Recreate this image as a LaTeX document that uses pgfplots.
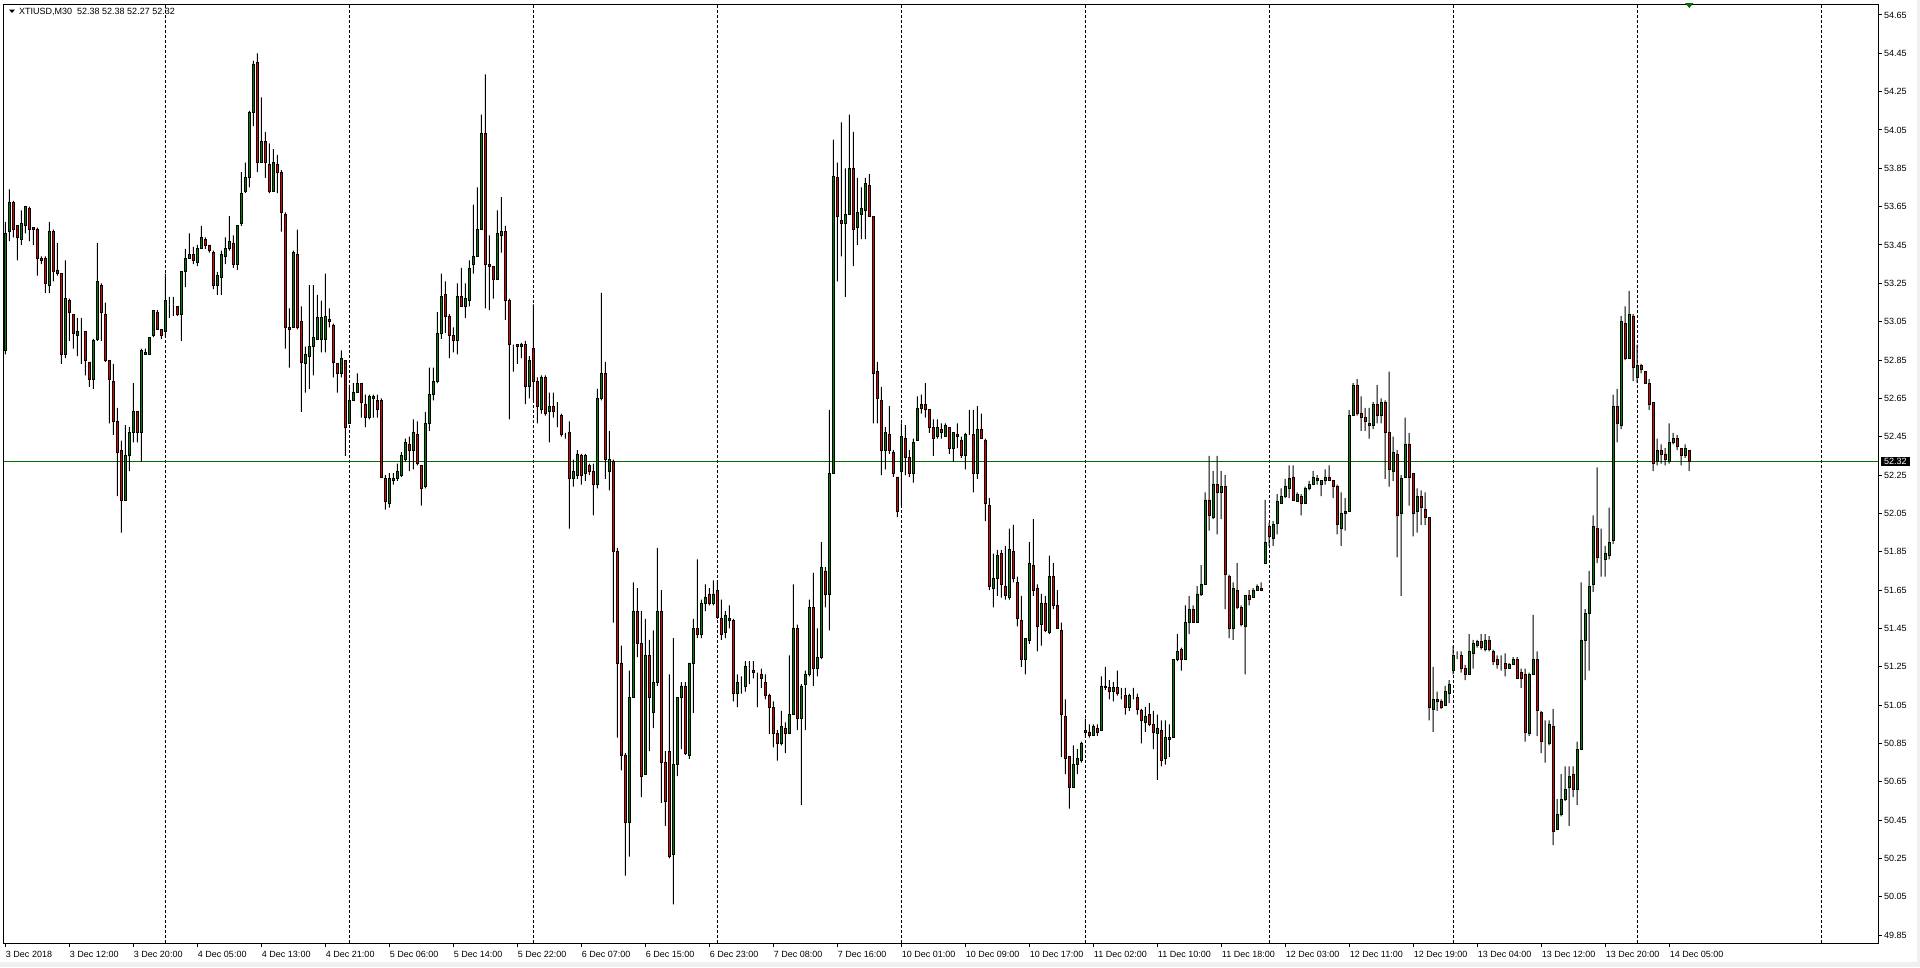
\documentclass[border=0pt]{standalone}
\usepackage{pgfplots}
\usepackage{pgfplotstable}
\usepackage{fontspec}
\setmainfont{Liberation Sans}
\pgfplotsset{compat=1.18}
\definecolor{bull}{RGB}{0,128,0}
\definecolor{bear}{RGB}{225,0,0}
\definecolor{pline}{RGB}{0,110,0}
\definecolor{frame}{RGB}{240,240,240}
\pgfplotstableread{
i O H L C
0 52.90 53.57 52.88 53.51
1 53.52 53.74 53.47 53.67
2 53.67 53.68 53.49 53.53
3 53.55 53.55 53.37 53.49
4 53.48 53.63 53.45 53.56
5 53.55 53.65 53.51 53.65
6 53.64 53.65 53.47 53.53
7 53.54 53.54 53.45 53.53
8 53.53 53.54 53.29 53.38
9 53.38 53.39 53.35 53.37
10 53.38 53.39 53.20 53.25
11 53.24 53.57 53.20 53.52
12 53.52 53.53 53.26 53.31
13 53.32 53.46 53.29 53.30
14 53.30 53.30 52.83 52.88
15 52.88 53.37 52.86 53.17
16 53.16 53.17 52.95 53.10
17 53.09 53.09 52.91 52.99
18 52.98 53.07 52.87 53.00
19 52.99 53.07 52.83 52.99
20 53.00 53.00 52.77 52.85
21 52.84 52.84 52.71 52.75
22 52.75 52.96 52.70 52.95
23 52.96 53.46 52.95 53.26
24 53.24 53.25 52.95 53.10
25 53.09 53.15 52.84 52.85
26 52.85 52.85 52.52 52.75
27 52.74 52.83 52.46 52.53
28 52.53 52.60 52.14 52.37
29 52.38 52.43 51.95 52.12
30 52.12 52.51 52.12 52.35
31 52.35 52.50 52.27 52.47
32 52.47 52.73 52.42 52.58
33 52.58 52.58 52.42 52.47
34 52.47 52.91 52.32 52.90
35 52.88 52.91 52.88 52.89
36 52.88 52.97 52.88 52.97
37 52.98 53.11 52.97 53.11
38 53.10 53.11 53.01 53.01
39 53.01 53.01 52.96 52.98
40 53.00 53.30 52.97 53.16
41 53.14 53.18 53.07 53.14
42 53.14 53.18 53.08 53.14
43 53.13 53.13 53.08 53.09
44 53.09 53.31 52.95 53.31
45 53.31 53.43 53.23 53.38
46 53.38 53.51 53.38 53.40
47 53.40 53.44 53.35 53.37
48 53.36 53.45 53.34 53.43
49 53.43 53.55 53.43 53.49
50 53.48 53.49 53.43 53.45
51 53.45 53.45 53.41 53.42
52 53.41 53.42 53.22 53.24
53 53.24 53.31 53.19 53.29
54 53.28 53.42 53.19 53.40
55 53.39 53.49 53.35 53.43
56 53.43 53.60 53.42 53.47
57 53.46 53.50 53.33 53.35
58 53.35 53.55 53.32 53.55
59 53.56 53.83 53.55 53.72
60 53.73 53.88 53.72 53.80
61 53.80 54.15 53.75 54.14
62 54.14 54.41 54.07 54.39
63 54.40 54.45 53.83 53.88
64 53.88 54.22 53.88 53.99
65 53.99 54.04 53.80 53.88
66 53.87 53.98 53.72 53.73
67 53.73 53.95 53.73 53.88
68 53.87 53.92 53.72 53.83
69 53.83 53.84 53.52 53.62
70 53.61 53.62 52.91 53.02
71 53.02 53.12 52.81 53.01
72 53.02 53.42 53.02 53.41
73 53.40 53.53 53.01 53.02
74 53.05 53.13 52.58 52.84
75 52.83 52.92 52.68 52.88
76 52.87 53.24 52.70 52.92
77 52.92 53.24 52.77 52.97
78 52.96 53.19 52.96 53.07
79 52.96 53.16 52.89 53.07
80 52.96 53.30 52.89 53.08
81 53.06 53.12 53.02 53.05
82 53.03 53.04 52.76 52.84
83 52.83 52.83 52.68 52.78
84 52.78 52.90 52.76 52.86
85 52.85 52.85 52.35 52.50
86 52.52 52.72 52.52 52.64
87 52.64 52.73 52.64 52.68
88 52.68 52.78 52.68 52.73
89 52.73 52.73 52.55 52.63
90 52.62 52.67 52.50 52.55
91 52.55 52.67 52.54 52.66
92 52.65 52.67 52.55 52.66
93 52.64 52.67 52.55 52.59
94 52.64 52.65 52.24 52.24
95 52.23 52.25 52.07 52.11
96 52.10 52.26 52.08 52.23
97 52.22 52.26 52.20 52.23
98 52.23 52.31 52.22 52.27
99 52.25 52.37 52.24 52.35
100 52.33 52.44 52.32 52.42
101 52.41 52.45 52.27 52.38
102 52.38 52.54 52.28 52.47
103 52.46 52.53 52.30 52.31
104 52.30 52.30 52.09 52.18
105 52.19 52.58 52.18 52.52
106 52.52 52.81 52.48 52.67
107 52.67 52.81 52.64 52.74
108 52.74 53.10 52.73 52.99
109 52.99 53.30 52.96 53.18
110 53.19 53.26 52.99 53.08
111 53.08 53.09 52.86 52.98
112 52.98 53.02 52.89 52.95
113 52.95 53.25 52.88 53.18
114 53.18 53.33 53.13 53.13
115 53.13 53.25 53.07 53.17
116 53.16 53.37 53.13 53.33
117 53.35 53.66 53.30 53.39
118 53.39 53.75 53.39 53.53
119 53.53 54.13 53.53 54.03
120 54.03 54.34 53.12 53.35
121 53.35 53.50 53.11 53.34
122 53.34 53.34 53.17 53.27
123 53.27 53.63 53.27 53.51
124 53.50 53.70 53.41 53.52
125 53.52 53.55 53.06 53.16
126 53.16 53.17 52.54 52.93
127 52.92 52.93 52.79 52.92
128 52.93 52.93 52.83 52.92
129 52.92 52.94 52.86 52.93
130 52.93 52.95 52.62 52.71
131 52.71 52.87 52.65 52.85
132 52.91 53.14 52.64 52.74
133 52.74 52.76 52.52 52.61
134 52.59 52.77 52.57 52.76
135 52.76 52.77 52.56 52.57
136 52.58 52.68 52.42 52.61
137 52.61 52.68 52.55 52.58
138 52.58 52.63 52.50 52.58
139 52.56 52.57 52.45 52.46
140 52.47 52.47 52.44 52.47
141 52.47 52.53 51.97 52.23
142 52.23 52.33 52.19 52.27
143 52.25 52.38 52.23 52.36
144 52.35 52.36 52.20 52.25
145 52.26 52.36 52.22 52.35
146 52.30 52.31 52.25 52.27
147 52.27 52.31 52.04 52.20
148 52.20 52.70 52.18 52.65
149 52.65 53.20 52.64 52.78
150 52.78 52.84 52.23 52.33
151 52.27 52.48 52.17 52.33
152 52.32 52.33 51.48 51.85
153 51.85 51.87 50.88 51.27
154 51.27 51.36 50.71 50.79
155 50.79 50.80 50.16 50.44
156 50.44 51.23 50.26 51.09
157 51.09 51.69 51.09 51.54
158 51.54 51.66 51.30 51.37
159 51.37 51.54 50.57 50.68
160 50.69 51.50 50.69 51.31
161 51.31 51.39 50.81 51.09
162 51.01 51.44 50.93 51.17
163 51.17 51.87 51.15 51.54
164 51.54 51.65 50.54 50.75
165 50.75 50.81 50.42 50.55
166 50.81 51.21 50.25 50.26
167 50.27 51.40 50.01 50.74
168 50.74 51.09 50.68 51.09
169 51.09 51.17 50.82 51.15
170 51.15 51.17 50.79 50.80
171 50.79 51.27 50.77 51.27
172 51.27 51.50 51.01 51.45
173 51.45 51.81 51.40 51.42
174 51.42 51.60 51.40 51.58
175 51.58 51.68 51.54 51.61
176 51.63 51.66 51.57 51.58
177 51.58 51.70 51.57 51.63
178 51.65 51.70 51.50 51.51
179 51.50 51.60 51.39 51.42
180 51.43 51.54 51.40 51.52
181 51.49 51.57 51.45 51.50
182 51.49 51.50 51.07 51.11
183 51.11 51.21 51.04 51.17
184 51.15 51.20 51.11 51.15
185 51.15 51.28 51.12 51.25
186 51.24 51.28 51.16 51.24
187 51.23 51.28 51.19 51.22
188 51.22 51.22 51.04 51.22
189 51.21 51.24 51.14 51.19
190 51.17 51.21 51.08 51.10
191 51.10 51.11 50.90 51.04
192 51.04 51.07 50.83 50.90
193 50.90 50.92 50.76 50.85
194 50.85 51.02 50.84 50.94
195 50.93 50.96 50.80 50.90
196 50.90 51.31 50.90 51.00
197 51.00 51.68 51.00 51.45
198 51.45 51.47 50.92 50.98
199 50.98 51.16 50.53 51.15
200 51.16 51.23 50.92 51.21
201 51.21 51.60 51.20 51.56
202 51.56 51.74 51.15 51.24
203 51.24 51.45 51.20 51.30
204 51.30 51.90 51.29 51.77
205 51.75 51.77 51.56 51.63
206 51.63 52.59 51.44 52.26
207 52.26 54.00 52.26 53.81
208 53.80 53.88 53.26 53.60
209 53.58 54.09 53.39 53.56
210 53.56 53.85 53.18 53.61
211 53.61 54.13 53.61 53.85
212 53.85 54.04 53.34 53.53
213 53.54 53.80 53.45 53.62
214 53.61 53.75 53.48 53.64
215 53.63 53.80 53.48 53.77
216 53.76 53.82 53.60 53.60
217 53.60 53.60 52.52 52.78
218 52.79 52.84 52.52 52.65
219 52.64 52.71 52.25 52.38
220 52.38 52.50 52.28 52.47
221 52.46 52.61 52.36 52.38
222 52.37 52.38 52.24 52.26
223 52.24 52.24 52.03 52.06
224 52.27 52.52 52.09 52.45
225 52.44 52.51 52.25 52.34
226 52.34 52.38 52.24 52.26
227 52.26 52.44 52.21 52.42
228 52.43 52.66 52.43 52.60
229 52.60 52.67 52.57 52.62
230 52.62 52.73 52.55 52.59
231 52.59 52.59 52.47 52.50
232 52.50 52.54 52.35 52.44
233 52.45 52.54 52.44 52.50
234 52.49 52.52 52.44 52.47
235 52.45 52.52 52.45 52.51
236 52.50 52.50 52.36 52.39
237 52.39 52.47 52.32 52.47
238 52.46 52.52 52.39 52.45
239 52.43 52.45 52.34 52.35
240 52.35 52.47 52.28 52.46
241 52.47 52.59 52.46 52.47
242 52.46 52.59 52.16 52.26
243 52.26 52.61 52.23 52.49
244 52.49 52.57 52.44 52.44
245 52.43 52.44 52.01 52.10
246 52.09 52.13 51.65 51.67
247 51.66 51.84 51.56 51.71
248 51.71 51.86 51.62 51.83
249 51.84 51.86 51.61 51.68
250 51.67 51.88 51.60 51.62
251 51.61 51.97 51.60 51.86
252 51.85 51.99 51.69 51.71
253 51.69 51.72 51.46 51.50
254 51.49 51.62 51.25 51.29
255 51.29 51.40 51.21 51.40
256 51.39 51.90 51.37 51.79
257 51.78 52.02 51.62 51.65
258 51.66 51.68 51.33 51.46
259 51.47 51.63 51.36 51.58
260 51.58 51.62 51.43 51.44
261 51.43 51.83 51.42 51.72
262 51.72 51.79 51.55 51.57
263 51.57 51.65 51.45 51.45
264 51.44 51.48 50.78 51.00
265 50.99 51.08 50.69 50.77
266 50.78 50.78 50.51 50.62
267 50.62 50.84 50.62 50.74
268 50.74 50.82 50.69 50.77
269 50.76 50.86 50.75 50.85
270 50.92 50.98 50.88 50.91
271 50.91 50.95 50.88 50.89
272 50.89 50.95 50.89 50.94
273 50.93 50.95 50.89 50.91
274 50.92 51.20 50.92 51.15
275 51.15 51.25 51.13 51.14
276 51.14 51.18 51.08 51.12
277 51.12 51.17 51.07 51.14
278 51.14 51.23 51.10 51.11
279 51.10 51.14 51.08 51.10
280 51.10 51.14 51.00 51.04
281 51.04 51.11 51.02 51.10
282 51.09 51.14 51.08 51.09
283 51.09 51.11 51.00 51.03
284 51.02 51.03 50.85 50.97
285 50.96 51.04 50.91 50.99
286 51.00 51.06 50.94 50.95
287 50.95 51.02 50.82 50.91
288 50.90 51.00 50.66 50.93
289 50.92 50.97 50.73 50.76
290 50.77 50.97 50.74 50.88
291 50.87 50.95 50.78 50.88
292 50.88 51.29 50.88 51.29
293 51.29 51.42 51.28 51.33
294 51.34 51.35 51.23 51.29
295 51.29 51.57 51.29 51.48
296 51.48 51.62 51.42 51.55
297 51.55 51.57 51.48 51.48
298 51.48 51.67 51.48 51.63
299 51.63 51.78 51.62 51.68
300 51.68 52.16 51.68 52.12
301 52.12 52.35 51.96 52.04
302 52.03 52.27 52.02 52.20
303 52.20 52.35 51.94 52.16
304 52.16 52.27 52.02 52.19
305 52.19 52.25 51.55 51.73
306 51.72 51.73 51.40 51.45
307 51.45 51.69 51.39 51.66
308 51.65 51.79 51.55 51.56
309 51.56 51.57 51.46 51.47
310 51.46 51.62 51.21 51.62
311 51.62 51.65 51.57 51.60
312 51.61 51.66 51.61 51.65
313 51.65 51.68 51.65 51.67
314 51.66 51.69 51.65 51.65
315 51.79 52.12 51.79 51.90
316 51.98 52.00 51.88 51.93
317 51.92 52.01 51.88 51.99
318 52.00 52.15 51.94 52.11
319 52.10 52.18 52.10 52.14
320 52.14 52.23 52.13 52.19
321 52.18 52.30 52.13 52.23
322 52.24 52.30 52.12 52.12
323 52.11 52.16 52.11 52.15
324 52.14 52.15 52.04 52.10
325 52.10 52.19 52.10 52.18
326 52.18 52.22 52.17 52.20
327 52.20 52.27 52.20 52.24
328 52.23 52.25 52.20 52.22
329 52.20 52.22 52.14 52.22
330 52.22 52.28 52.20 52.24
331 52.24 52.30 52.22 52.22
332 52.22 52.22 52.13 52.19
333 52.19 52.20 51.94 51.99
334 51.97 52.16 51.88 52.05
335 52.05 52.13 51.96 52.06
336 52.06 52.59 52.06 52.56
337 52.56 52.73 52.56 52.72
338 52.72 52.75 52.56 52.57
339 52.57 52.66 52.48 52.55
340 52.55 52.60 52.48 52.53
341 52.52 52.60 52.44 52.51
342 52.51 52.63 52.49 52.62
343 52.62 52.72 52.52 52.56
344 52.56 52.65 52.52 52.63
345 52.63 52.64 52.23 52.47
346 52.47 52.79 52.19 52.28
347 52.27 52.45 52.22 52.37
348 52.36 52.38 51.82 52.04
349 52.05 52.25 51.62 52.23
350 52.24 52.55 52.24 52.41
351 52.41 52.47 52.09 52.24
352 52.26 52.26 51.93 52.05
353 52.06 52.18 51.95 52.14
354 52.14 52.17 51.99 52.08
355 52.07 52.16 51.99 52.03
356 52.03 52.03 50.97 51.04
357 51.03 51.25 50.91 51.08
358 51.07 51.12 51.02 51.08
359 51.07 51.08 51.03 51.04
360 51.05 51.15 51.05 51.12
361 51.11 51.18 51.06 51.16
362 51.23 51.36 51.21 51.31
363 51.31 51.33 51.29 51.31
364 51.31 51.33 51.22 51.24
365 51.24 51.26 51.18 51.21
366 51.21 51.42 51.21 51.33
367 51.32 51.39 51.24 51.37
368 51.36 51.39 51.35 51.38
369 51.38 51.42 51.34 51.35
370 51.34 51.42 51.33 51.39
371 51.39 51.41 51.33 51.34
372 51.33 51.34 51.26 51.28
373 51.29 51.31 51.24 51.26
374 51.27 51.31 51.23 51.27
375 51.27 51.32 51.20 51.24
376 51.24 51.27 51.24 51.26
377 51.26 51.30 51.26 51.29
378 51.29 51.30 51.19 51.19
379 51.22 51.24 51.14 51.19
380 51.21 51.24 50.86 50.91
381 50.90 51.22 50.89 51.21
382 51.21 51.52 51.21 51.29
383 51.29 51.33 50.89 51.02
384 51.01 51.02 50.80 50.86
385 50.84 50.97 50.75 50.84
386 50.85 50.97 50.84 50.95
387 50.94 51.03 50.32 50.39
388 50.40 50.56 50.40 50.48
389 50.48 50.69 50.47 50.56
390 50.56 50.73 50.55 50.61
391 50.62 50.73 50.42 50.68
392 50.69 50.73 50.57 50.61
393 50.61 50.86 50.53 50.82
394 50.82 51.69 50.82 51.39
395 51.39 51.55 51.18 51.53
396 51.53 51.75 51.23 51.67
397 51.68 52.04 51.64 51.98
398 51.97 52.29 51.79 51.82
399 51.81 51.97 51.72 51.81
400 51.81 51.88 51.72 51.84
401 51.83 52.08 51.81 51.90
402 51.91 52.67 51.89 52.61
403 52.61 52.70 52.42 52.52
404 52.51 53.08 52.49 53.05
405 53.04 53.13 52.85 52.86
406 52.86 53.21 52.86 53.09
407 53.08 53.09 52.74 52.81
408 52.76 52.93 52.73 52.82
409 52.82 52.83 52.78 52.80
410 52.79 52.79 52.73 52.73
411 52.73 52.75 52.59 52.62
412 52.63 52.63 52.27 52.31
413 52.32 52.44 52.30 52.38
414 52.38 52.41 52.31 52.36
415 52.36 52.39 52.30 52.33
416 52.32 52.52 52.31 52.42
417 52.42 52.47 52.41 52.44
418 52.44 52.46 52.38 52.40
419 52.39 52.39 52.30 52.35
420 52.35 52.41 52.34 52.39
421 52.38 52.38 52.27 52.32
}\candles
\begin{document}
\begin{tikzpicture}[x=1pt,y=1pt]
\fill[white] (0,0) rectangle (1920,-967);
\path[use as bounding box] (0,0) rectangle (1920,-967);
\fill[frame] (0,-962) rectangle (1920,-967);
\fill[frame] (1917,0) rectangle (1920,-967);
\begin{axis}[
  at={(4pt,-4pt)}, anchor=north west,
  scale only axis, width=1874pt, height=939pt,
  xmin=-0.325, xmax=468.2, ymin=49.809, ymax=54.707,
  ybar stacked, bar shift=0pt,
  clip mode=individual,
  axis line style={black, line width=1pt},
  tick style={black, line width=1pt},
  tick align=outside, major tick length=4pt,
  xtick pos=bottom, ytick pos=right,
  yticklabel pos=right,
  xtick={0,16,...,416},
  xticklabels={3 Dec 2018, 3 Dec 12:00, 3 Dec 20:00, 4 Dec 05:00, 4 Dec 13:00, 4 Dec 21:00, 5 Dec 06:00, 5 Dec 14:00, 5 Dec 22:00, 6 Dec 07:00, 6 Dec 15:00, 6 Dec 23:00, 7 Dec 08:00, 7 Dec 16:00, 10 Dec 01:00, 10 Dec 09:00, 10 Dec 17:00, 11 Dec 02:00, 11 Dec 10:00, 11 Dec 18:00, 12 Dec 03:00, 12 Dec 11:00, 12 Dec 19:00, 13 Dec 04:00, 13 Dec 12:00, 13 Dec 20:00, 14 Dec 05:00},
  ytick={49.85,50.05,50.25,50.45,50.65,50.85,51.05,51.25,51.45,51.65,51.85,52.05,52.25,52.45,52.65,52.85,53.05,53.25,53.45,53.65,53.85,54.05,54.25,54.45,54.65},
  yticklabel={\pgfmathprintnumber[fixed,fixed zerofill,precision=2]{\tick}},
  /pgf/number format/assume math mode=true,
  tick label style={font=\fontsize{9}{10}\selectfont, black},
  xticklabel style={anchor=north west, inner sep=0pt, xshift=0.5pt, yshift=-4pt},
  yticklabel style={anchor=west, inner sep=0pt, xshift=2pt},
  extra x ticks={40,86,132,178,224,270,316,362,408,454},
  extra x tick labels={},
  extra x tick style={grid=major, major tick length=0pt, major grid style={black, line width=1pt, dash pattern=on 3pt off 2pt}},
  extra y ticks={52.32},
  extra y tick labels={},
  extra y tick style={grid=major, major tick length=0pt, major grid style={pline, line width=1pt, solid}},
]
% invisible base up to the low
\addplot[draw=none, fill=none, bar width=1pt] table[x=i, y=L] {\candles};
% lower wick: low to body bottom
\addplot[draw=none, fill=black, bar width=1pt] table[x=i, y expr={max(min(\thisrow{O},\thisrow{C})-\thisrow{L},0)}] {\candles};
% bull bodies
\addplot[draw=black, line width=0.8pt, fill=bull, bar width=2.2pt] table[x=i, y expr={\thisrow{C}>=\thisrow{O} ? \thisrow{C}-\thisrow{O} : 0}] {\candles};
% bear bodies
\addplot[draw=black, line width=0.8pt, fill=bear, bar width=2.2pt] table[x=i, y expr={\thisrow{C}<\thisrow{O} ? \thisrow{O}-\thisrow{C} : 0}] {\candles};
% upper wick: body top to high
\addplot[draw=none, fill=black, bar width=1pt] table[x=i, y expr={max(\thisrow{H}-max(\thisrow{O},\thisrow{C}),0)}] {\candles};
\node[fill=black, text=white, anchor=west, inner xsep=3pt, inner ysep=1.6pt, font=\fontsize{9}{10}\selectfont] at (axis cs:468.2,52.32) [xshift=3pt] {52.32};
\end{axis}
\fill[pline] (1685,-3) -- (1693.5,-3) -- (1689.3,-8) -- cycle;
\fill[black] (9,-9.5) -- (15,-9.5) -- (12,-13) -- cycle;
\node[anchor=west, inner sep=0pt, font=\fontsize{9}{10}\selectfont] at (19,-11.5) {XTIUSD,M30\ \ 52.38 52.38 52.27 52.32};
\end{tikzpicture}
\end{document}
